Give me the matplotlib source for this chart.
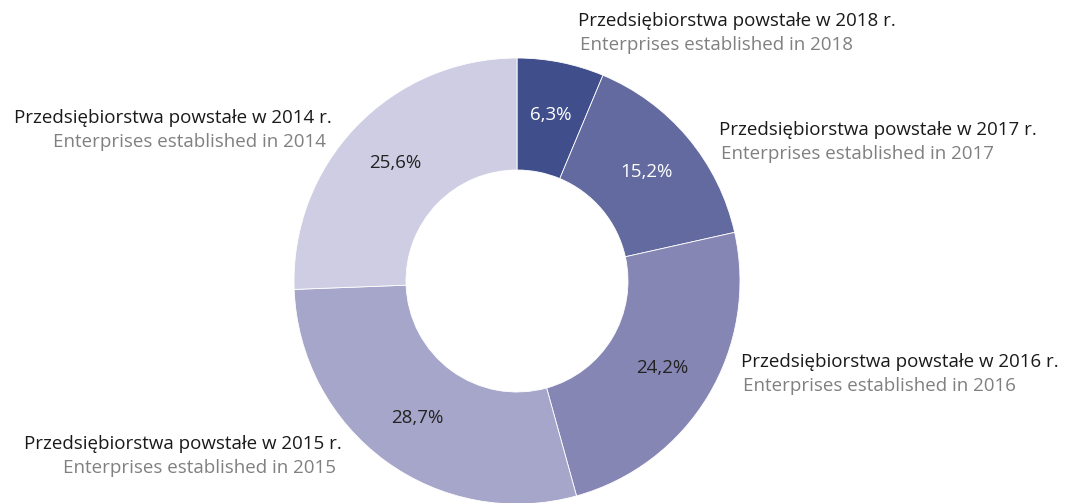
import numpy as np
import matplotlib.pyplot as plt

plt.rcParams['font.family'] = ['Open Sans', 'DejaVu Sans']

# dane
lata = ['2018', '2017', '2016', '2015', '2014']
udzial = [6.3, 15.2, 24.2, 28.7, 25.6]
kolory = ['#404f8b', '#636a9f', '#8686b4', '#a6a6ca', '#cecde3']
kolor_pct = ['white', 'white', '#222222', '#222222', '#222222']

# Crear figura
fig = plt.figure(figsize=(10.66, 5.03), dpi=100)
ax = fig.add_axes([0, 0, 1, 1])

wedges, texts, autotexts = ax.pie(
    udzial, colors=kolory, startangle=90, counterclock=False,
    center=(517, 222), radius=223, frame=True,
    autopct=lambda p: f'{p:.1f}%'.replace('.', ','), pctdistance=0.76,
    wedgeprops=dict(width=112, edgecolor='white', linewidth=0.6),
    textprops=dict(fontsize=13.5))
ax.set_xlim(0, 1066)
ax.set_ylim(0, 503)
ax.set_aspect('equal')
ax.axis('off')

for t, c in zip(autotexts, kolor_pct):
    t.set_color(c)

# etykiety zewnetrzne
pozycje = {
    '2018': (578, 482, 'left'),
    '2017': (719, 373, 'left'),
    '2016': (741, 141, 'left'),
    '2015': (342, 59, 'right'),
    '2014': (332, 385, 'right'),
}
for rok in lata:
    x, y, ha = pozycje[rok]
    ax.text(x, y, f'Przedsiębiorstwa powstałe w {rok} r.', ha=ha, va='center',
            fontsize=13.5, color='#1a1a1a')
    x2 = x + 2 if ha == 'left' else x - 6
    ax.text(x2, y - 24, f'Enterprises established in {rok}', ha=ha, va='center',
            fontsize=13.5, color='#808080')

fig.savefig('out.png', dpi=100)
